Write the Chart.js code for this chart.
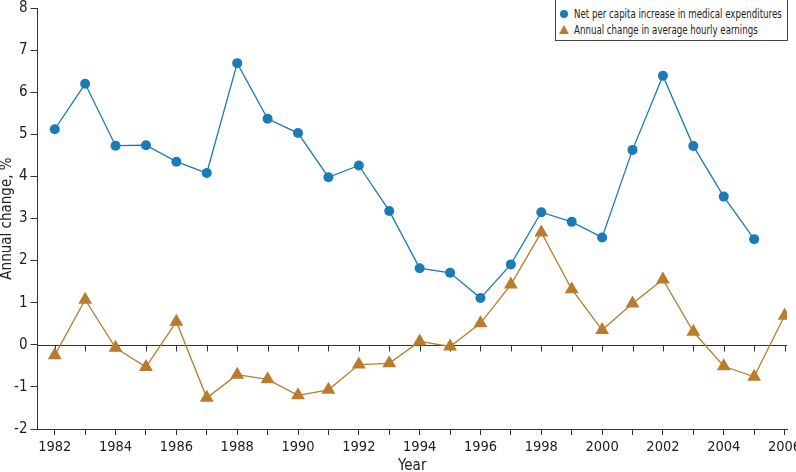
<!DOCTYPE html>
<html lang="en">
<head>
    <meta charset="UTF-8">
    <title>Medical expenditures vs hourly earnings</title>
    <script src="https://cdn.jsdelivr.net/npm/chart.js"></script>
    <style>
        body { margin: 0; background: #fff; }
        .wrap { position: relative; width: 796px; height: 472px; overflow: hidden; }
        .legend {
            position: absolute; left: 555px; top: -1px; width: 231px; height: 40px;
            border: 1px solid #444; background: #fff;
            font-family: 'Liberation Sans Narrow', 'DejaVu Sans Condensed', 'Roboto', sans-serif;
            font-size: 13px; color: #222;
        }
        .legend div { position: absolute; left: 18px; white-space: nowrap; line-height: 14px; }
        .legend .txt { display: inline-block; transform: scaleX(0.74); transform-origin: left center; }
        .legend .dot { position: absolute; left: -14px; top: 3px; width: 8px; height: 8px; border-radius: 50%; }
        .legend .tri { position: absolute; left: -15px; top: 2px; width: 0; height: 0;
            border-left: 5px solid transparent; border-right: 5px solid transparent; border-bottom: 9px solid; }
    </style>
</head>
<body>
    <div class="wrap">
        <canvas id="chart" width="796" height="472"></canvas>
        <div class="legend" id="legend"></div>
    </div>
    <script>
        const years = [1982, 1983, 1984, 1985, 1986, 1987, 1988, 1989, 1990, 1991, 1992, 1993,
                       1994, 1995, 1996, 1997, 1998, 1999, 2000, 2001, 2002, 2003, 2004, 2005, 2006];
        const medical = [5.12, 6.20, 4.73, 4.74, 4.35, 4.08, 6.69, 5.37, 5.03, 3.98, 4.26, 3.18,
                         1.82, 1.71, 1.11, 1.91, 3.15, 2.92, 2.55, 4.63, 6.39, 4.72, 3.52, 2.51];
        const earnings = [-0.25, 1.07, -0.07, -0.53, 0.55, -1.26, -0.71, -0.82, -1.20, -1.07, -0.47, -0.44,
                          0.08, -0.04, 0.51, 1.43, 2.67, 1.32, 0.35, 0.98, 1.55, 0.31, -0.51, -0.76, 0.69];
        const seriesLabels = ['Net per capita increase in medical expenditures',
                              'Annual change in average hourly earnings'];
        const yTicks = [-2, -1, 0, 1, 2, 3, 4, 5, 6, 7, 8];

        const blue = '#1a7bb6';
        const brown = '#b97b2c';
        const font = "'Liberation Sans Narrow', 'DejaVu Sans Condensed', 'Roboto', sans-serif";

        const legend = document.getElementById('legend');
        legend.innerHTML =
            '<div style="top:7px"><span class="dot" style="background:' + blue + '"></span><span class="txt">' + seriesLabels[0] + '</span></div>' +
            '<div style="top:23px"><span class="tri" style="border-bottom-color:' + brown + '"></span><span class="txt">' + seriesLabels[1] + '</span></div>';

        // zero line with its own year ticks
        const zeroLine = {
            id: 'zeroLine',
            beforeDatasetsDraw(chart) {
                const ctx = chart.ctx;
                const x = chart.scales.x, y = chart.scales.y;
                const y0 = Math.round(y.getPixelForValue(0)) + 0.5;
                ctx.save();
                ctx.strokeStyle = '#333';
                ctx.lineWidth = 1;
                ctx.beginPath();
                ctx.moveTo(chart.chartArea.left, y0);
                ctx.lineTo(chart.chartArea.right, y0);
                years.forEach(yr => {
                    const px = Math.round(x.getPixelForValue(yr)) + 0.5;
                    ctx.moveTo(px, y0);
                    ctx.lineTo(px, y0 + 6);
                });
                ctx.stroke();
                ctx.restore();
            }
        };

        new Chart(document.getElementById('chart'), {
            type: 'line',
            data: {
                datasets: [{
                    label: seriesLabels[0],
                    data: medical.map((v, i) => ({ x: years[i], y: v })),
                    borderColor: blue,
                    backgroundColor: blue,
                    borderWidth: 1.3,
                    pointStyle: 'circle',
                    pointRadius: 5,
                    pointBorderWidth: 0,
                    tension: 0
                }, {
                    label: seriesLabels[1],
                    data: earnings.map((v, i) => ({ x: years[i], y: v })),
                    borderColor: brown,
                    backgroundColor: brown,
                    borderWidth: 1.3,
                    pointStyle: 'triangle',
                    pointRadius: 8,
                    pointBorderWidth: 0,
                    tension: 0
                }]
            },
            options: {
                responsive: false,
                animation: false,
                layout: { padding: { top: 3, right: 9, bottom: 0, left: 0 } },
                plugins: {
                    legend: { display: false },
                    tooltip: { enabled: false }
                },
                scales: {
                    x: {
                        type: 'linear',
                        min: 1981.433,
                        max: 2006.08,
                        afterBuildTicks: s => { s.ticks = years.map(v => ({ value: v })); },
                        afterFit: s => { s.height = 43; s.paddingLeft = 0; s.paddingRight = 0; },
                        grid: { drawOnChartArea: false, drawTicks: true, tickLength: 6, color: '#333' },
                        border: { display: true, color: '#333' },
                        ticks: {
                            autoSkip: false,
                            maxRotation: 0,
                            padding: 4,
                            color: '#222',
                            font: { family: font, size: 14.5 },
                            callback: v => (v % 2 === 0 ? String(v) : '')
                        },
                        title: {
                            display: true,
                            text: 'Year',
                            color: '#222',
                            font: { family: font, size: 15, lineHeight: 0.8 },
                            padding: { top: 0, bottom: 0 }
                        }
                    },
                    y: {
                        min: -2,
                        max: 8,
                        afterBuildTicks: s => { s.ticks = yTicks.map(v => ({ value: v })); },
                        afterFit: s => { s.width = 37.5; s.paddingTop = 0; s.paddingBottom = 0; },
                        grid: { drawOnChartArea: false, drawTicks: true, tickLength: 7, color: '#333' },
                        border: { display: true, color: '#333' },
                        ticks: {
                            padding: 3,
                            color: '#222',
                            font: { family: font, size: 15 }
                        },
                        title: {
                            display: true,
                            text: 'Annual change, %',
                            color: '#222',
                            font: { family: font, size: 15, lineHeight: 1 },
                            padding: { top: 0, bottom: 0 }
                        }
                    }
                }
            },
            plugins: [zeroLine]
        });
    </script>
</body>
</html>
